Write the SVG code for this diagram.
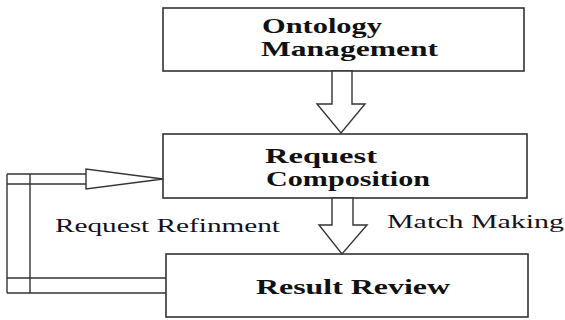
<svg xmlns="http://www.w3.org/2000/svg" width="565" height="320" viewBox="0 0 565 320">
  <style>
    .box { fill: #ffffff; stroke: #333333; stroke-width: 1.6; }
    .conn { fill: #ffffff; stroke: #333333; stroke-width: 1.4; stroke-linejoin: miter; }
    .line { fill: none; stroke: #333333; stroke-width: 1.4; }
    .title { font-family: "Liberation Serif", "DejaVu Serif", "Times New Roman", serif; font-weight: bold; font-size: 21px; fill: #111111; }
    .label { font-family: "Liberation Serif", "DejaVu Serif", "Times New Roman", serif; font-size: 19px; fill: #111122; }
  </style>
  <rect width="565" height="320" fill="#ffffff"/>

  <g id="ontology-management">
    <rect class="box" x="163" y="8" width="361" height="63"/>
    <text class="title" x="262" y="33" textLength="120" lengthAdjust="spacingAndGlyphs">Ontology</text>
    <text class="title" x="261" y="56" textLength="177" lengthAdjust="spacingAndGlyphs">Management</text>
  </g>

  <g id="request-composition">
    <rect class="box" x="163" y="134" width="364" height="64"/>
    <text class="title" x="265" y="163" textLength="112" lengthAdjust="spacingAndGlyphs">Request</text>
    <text class="title" x="266" y="186" textLength="164" lengthAdjust="spacingAndGlyphs">Composition</text>
  </g>

  <g id="result-review">
    <rect class="box" x="166" y="254" width="362" height="63"/>
    <text class="title" x="256" y="294" textLength="194" lengthAdjust="spacingAndGlyphs">Result Review</text>
  </g>

  <g id="connectors">
    <!-- block arrow: Ontology Management to Request Composition -->
    <polygon class="conn" points="332,71 352,71 352,104 365,104 341,133 317,104 332,104"/>
    <!-- block arrow: Request Composition to Result Review -->
    <polygon class="conn" points="332,198 353,198 353,225 367,225 342,254 319,225 332,225"/>
    <!-- refinement loop back from Result Review to Request Composition -->
    <polygon class="conn" points="86,174 86,169 163,179 86,189 86,184"/>
    <line class="line" x1="7" y1="174" x2="86" y2="174"/>
    <line class="line" x1="7" y1="184" x2="86" y2="184"/>
    <line class="line" x1="7" y1="174" x2="7" y2="293"/>
    <line class="line" x1="30" y1="174" x2="30" y2="293"/>
    <line class="line" x1="7" y1="278" x2="166" y2="278"/>
    <line class="line" x1="7" y1="293" x2="166" y2="293"/>
  </g>

  <g id="labels">
    <text class="label" x="55" y="232" textLength="225" lengthAdjust="spacingAndGlyphs">Request Refinment</text>
    <text class="label" x="387" y="228" textLength="177" lengthAdjust="spacingAndGlyphs">Match Making</text>
  </g>
</svg>
